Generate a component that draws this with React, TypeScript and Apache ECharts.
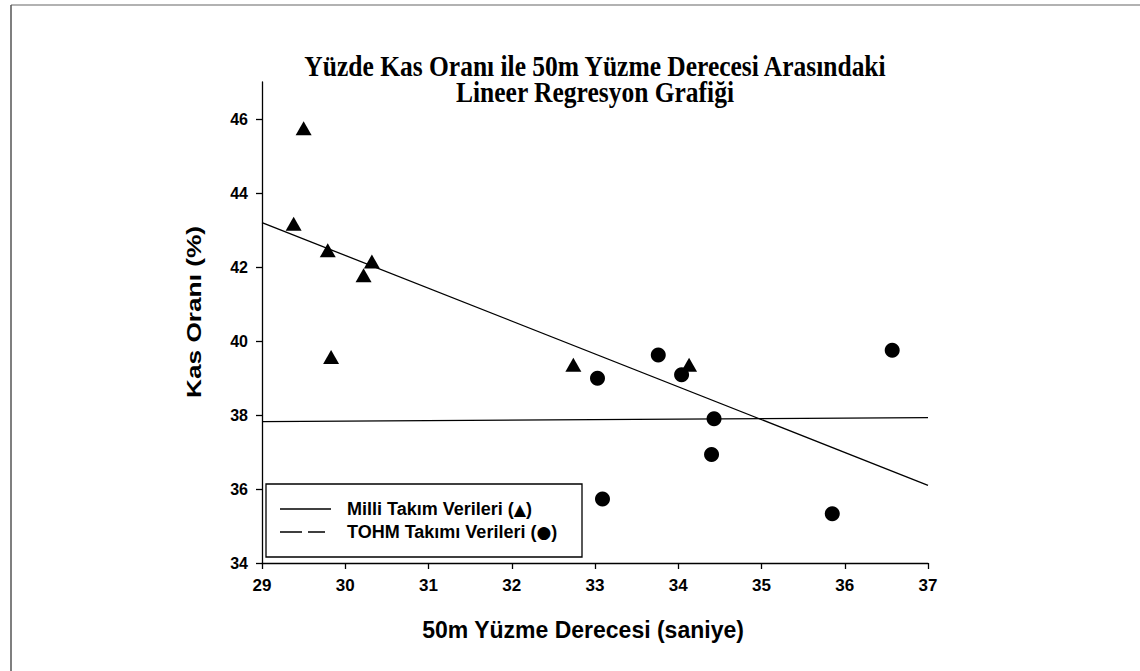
import React, { useEffect, useRef } from "react";
import * as echarts from "echarts";

const titleLines = [
  "Yüzde Kas Oranı ile 50m Yüzme Derecesi Arasındaki",
  "Lineer Regresyon Grafiği",
];
const xAxisName = "50m Yüzme Derecesi (saniye)";
const yAxisName = "Kas Oranı (%)";
const legendNames = ["Milli Takım Verileri", "TOHM Takımı Verileri"];
const legendMarks = ["▲", "●"];

const yTickValues = [34, 36, 38, 40, 42, 44, 46];

// Milli Takım (triangles)
const milliX = [29.5, 29.38, 29.79, 30.32, 30.22, 29.83, 32.74, 34.13];
const milliY = [45.75, 43.17, 42.45, 42.15, 41.78, 39.57, 39.36, 39.36];
// TOHM Takımı (circles)
const tohmX = [33.76, 33.03, 34.04, 34.43, 34.4, 33.09, 36.57, 35.85];
const tohmY = [39.62, 38.99, 39.09, 37.9, 36.93, 35.73, 39.75, 35.33];
// Regression lines (end points)
const milliFitX = [29, 37];
const milliFitY = [43.2, 36.1];
const tohmFitX = [29, 37];
const tohmFitY = [37.82, 37.93];

const zip = (a: number[], b: number[]) => a.map((v, i) => [v, b[i]]);

export default function App() {
  const ref = useRef<HTMLDivElement>(null);
  useEffect(() => {
    const chart = echarts.init(ref.current!, null, { renderer: "svg" });
    const sans = "'Liberation Sans', Arial, sans-serif";
    const serif = "'Liberation Serif', 'Times New Roman', serif";
    const axisCommon = {
      axisLine: { show: true, lineStyle: { color: "#000", width: 1.3 } },
      axisTick: { show: true, length: 6, lineStyle: { color: "#000", width: 1.3 } },
      splitLine: { show: false },
    };
    const legendText = (i: number, y: number, markSize: number) => ({
      type: "text",
      x: 347,
      y,
      style: {
        text: `${legendNames[i]} ({m|${legendMarks[i]}})`,
        fontFamily: sans,
        fontWeight: "bold",
        fontSize: 18,
        fill: "#000",
        textVerticalAlign: "middle",
        rich: {
          m: { fontFamily: "'DejaVu Sans', sans-serif", fontSize: markSize, fill: "#000" },
        },
      },
    });
    chart.setOption({
      animation: false,
      backgroundColor: "#fff",
      grid: { left: 262, top: 82, width: 666, height: 481 },
      xAxis: {
        type: "value",
        min: 29,
        max: 37,
        interval: 1,
        ...axisCommon,
        axisLabel: {
          color: "#000",
          fontFamily: sans,
          fontWeight: "bold",
          fontSize: 17,
          margin: 14,
        },
        name: xAxisName,
        nameLocation: "middle",
        nameGap: 55,
        nameTextStyle: {
          color: "#000",
          fontFamily: sans,
          fontWeight: "bold",
          fontSize: 23,
          padding: [0, 24, 0, 0],
        },
      },
      yAxis: {
        type: "value",
        min: 34,
        max: 47,
        interval: 2,
        ...axisCommon,
        axisTick: {
          show: true,
          length: 6,
          customValues: yTickValues,
          lineStyle: { color: "#000", width: 1.3 },
        },
        axisLabel: {
          color: "#000",
          fontFamily: sans,
          fontWeight: "bold",
          fontSize: 16,
          margin: 14,
          customValues: yTickValues,
        },
      },
      series: [
        {
          type: "line",
          data: zip(milliFitX, milliFitY),
          showSymbol: false,
          lineStyle: { color: "#000", width: 1.3 },
          silent: true,
          z: 1,
        },
        {
          type: "line",
          data: zip(tohmFitX, tohmFitY),
          showSymbol: false,
          lineStyle: { color: "#000", width: 1.3 },
          silent: true,
          z: 1,
        },
        {
          type: "scatter",
          data: zip(milliX, milliY),
          symbol: "triangle",
          symbolSize: [16, 14],
          itemStyle: { color: "#000", opacity: 1 },
          z: 2,
        },
        {
          type: "scatter",
          data: zip(tohmX, tohmY),
          symbol: "circle",
          symbolSize: 15,
          itemStyle: { color: "#000", opacity: 1 },
          z: 3,
        },
      ],
      graphic: [
        {
          type: "line",
          shape: { x1: 11, y1: 5, x2: 1140, y2: 5 },
          style: { stroke: "#999", lineWidth: 1.5 },
        },
        {
          type: "line",
          shape: { x1: 11, y1: 5, x2: 11, y2: 671 },
          style: { stroke: "#555", lineWidth: 1.5 },
        },
        {
          type: "text",
          x: 595,
          y: 67,
          scaleY: 1.12,
          style: {
            text: titleLines[0],
            fontFamily: serif,
            fontWeight: "bold",
            fontSize: 25.5,
            fill: "#000",
            textAlign: "center",
            textVerticalAlign: "middle",
          },
        },
        {
          type: "text",
          x: 595,
          y: 93,
          scaleY: 1.12,
          style: {
            text: titleLines[1],
            fontFamily: serif,
            fontWeight: "bold",
            fontSize: 25.5,
            fill: "#000",
            textAlign: "center",
            textVerticalAlign: "middle",
          },
        },
        {
          type: "text",
          x: 193,
          y: 312,
          rotation: Math.PI / 2,
          scaleX: 1.25,
          style: {
            text: yAxisName,
            fontFamily: sans,
            fontWeight: "bold",
            fontSize: 21,
            fill: "#000",
            textAlign: "center",
            textVerticalAlign: "middle",
          },
        },
        {
          type: "group",
          z: 10,
          children: [
            {
              type: "rect",
              shape: { x: 266, y: 484, width: 316, height: 73 },
              style: { fill: "#fff", stroke: "#000", lineWidth: 1.3 },
            },
            {
              type: "line",
              shape: { x1: 280, y1: 509, x2: 331, y2: 509 },
              style: { stroke: "#000", lineWidth: 1.3 },
            },
            {
              type: "line",
              shape: { x1: 280, y1: 532, x2: 325, y2: 532 },
              style: { stroke: "#000", lineWidth: 1.3, lineDash: [22, 6] },
            },
            legendText(0, 509, 16),
            legendText(1, 532, 17),
          ],
        },
      ],
    });
    return () => chart.dispose();
  }, []);
  return (
    <div
      ref={ref}
      style={{ position: "absolute", left: 0, top: 0, width: 1140, height: 671, background: "#fff" }}
    />
  );
}
